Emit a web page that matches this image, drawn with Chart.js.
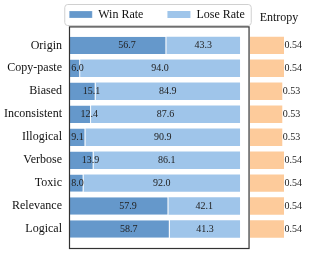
<!DOCTYPE html>
<html>
<head>
<meta charset="utf-8">
<script src="https://cdn.jsdelivr.net/npm/chart.js@4.4.0/dist/chart.umd.min.js"></script>
<style>
    html, body { margin: 0; padding: 0; background: #fff; }
    #wrap { width: 314px; height: 253px; }
</style>
</head>
<body>
<div id="wrap"><canvas id="chart"></canvas></div>
<script>
const CATEGORIES = ["Origin", "Copy-paste", "Biased", "Inconsistent", "Illogical", "Verbose", "Toxic", "Relevance", "Logical"];
const WIN_RATE = [56.7, 6.0, 15.1, 12.4, 9.1, 13.9, 8.0, 57.9, 58.7];
const LOSE_RATE = [43.3, 94.0, 84.9, 87.6, 90.9, 86.1, 92.0, 42.1, 41.3];
const ENTROPY = [0.54, 0.54, 0.53, 0.53, 0.53, 0.54, 0.54, 0.54, 0.54];

const WIN_COLOR = "#6598cb";
const LOSE_COLOR = "#9fc5ea";
const ENTROPY_COLOR = "#fdcb9b";
const SERIF = "'Liberation Serif', 'Times New Roman', Times, 'DejaVu Serif', serif";

Chart.defaults.font.family = SERIF;

// frame around the win/lose panel, legend box, entropy title
const framePlugin = {
    id: "frame",
    afterDraw(chart) {
        const { ctx, chartArea, scales } = chart;
        const left = chartArea.left - 0.5;
        const right = scales.x.getPixelForValue(105.3);
        const top = chartArea.top - 7;
        const bottom = chartArea.bottom + 8;
        ctx.save();
        ctx.strokeStyle = "#333";
        ctx.lineWidth = 1.2;
        ctx.strokeRect(left, top, right - left, bottom - top);

        const boxes = chart.legend.legendHitBoxes;
        const lx = Math.min(...boxes.map((b) => b.left)) - 5;
        const rx = Math.max(...boxes.map((b) => b.left + b.width)) + 6;
        ctx.strokeStyle = "#d0d0d0";
        ctx.lineWidth = 1;
        ctx.beginPath();
        ctx.roundRect(lx + 0.5, 4.5, rx - lx, 21, 3);
        ctx.stroke();

        ctx.fillStyle = "#111";
        ctx.font = `12px ${SERIF}`;
        ctx.textAlign = "center";
        ctx.textBaseline = "middle";
        ctx.fillText("Entropy", chartArea.right - 35, 18);
        ctx.restore();
    },
};

const valueLabels = {
    id: "valueLabels",
    afterDatasetsDraw(chart) {
        const { ctx, scales } = chart;
        ctx.save();
        ctx.fillStyle = "#222";
        ctx.font = `10px ${SERIF}`;
        ctx.textBaseline = "middle";
        CATEGORIES.forEach((_, i) => {
            const y = scales.y.getPixelForValue(i);
            const w = WIN_RATE[i];
            const l = LOSE_RATE[i];
            ctx.textAlign = "left";
            ctx.fillText(w.toFixed(1), scales.x.getPixelForValue(w >= 10 ? w / 2 : 0.7), y);
            ctx.textAlign = "center";
            ctx.fillText(l.toFixed(1), scales.x.getPixelForValue(w + l / 2), y);
            ctx.textAlign = "left";
            ctx.fillText(ENTROPY[i].toFixed(2), scales.x2.getPixelForValue(ENTROPY[i]) + 0.5, y);
        });
        ctx.restore();
    },
};

function drawChart() {
    new Chart(document.getElementById("chart"), {
        type: "bar",
        data: {
            labels: CATEGORIES,
            datasets: [
                {
                    label: "Win Rate",
                    data: WIN_RATE,
                    backgroundColor: WIN_COLOR,
                    borderColor: "rgba(255,255,255,0.9)",
                    borderWidth: { top: 0, right: 1, bottom: 0, left: 0 },
                    stack: "all",
                },
                {
                    label: "Lose Rate",
                    data: LOSE_RATE,
                    backgroundColor: LOSE_COLOR,
                    borderWidth: 0,
                    stack: "all",
                },
                {
                    label: "Entropy",
                    data: ENTROPY,
                    backgroundColor: ENTROPY_COLOR,
                    borderWidth: 0,
                    xAxisID: "x2",
                    base: 0.34,
                    stack: "all",
                },
            ],
        },
        options: {
            indexAxis: "y",
            responsive: true,
            maintainAspectRatio: false,
            animation: false,
            barPercentage: 0.76,
            categoryPercentage: 1,
            layout: { padding: { top: -15.5, bottom: 12.5, right: 0, left: 0 } },
            plugins: {
                tooltip: { enabled: false },
                legend: {
                    position: "top",
                    labels: {
                        filter: (item) => item.text !== "Entropy",
                        color: "#111",
                        font: { family: SERIF, size: 12 },
                        boxWidth: 23,
                        boxHeight: 7,
                        padding: 24,
                    },
                },
            },
            scales: {
                x: { display: false, stacked: true, min: 0, max: 143.5 },
                x2: {
                    position: "top",
                    min: -0.7188,
                    max: 0.7165,
                    ticks: { display: false },
                    grid: { display: false, drawTicks: false },
                    border: { display: false },
                    afterFit: (s) => { s.height = 3.4; },
                },
                y: {
                    grid: { display: false },
                    border: { display: false },
                    ticks: { color: "#111", font: { family: SERIF, size: 12 }, padding: 0 },
                    afterFit: (s) => { s.width = 70; },
                },
            },
        },
        plugins: [framePlugin, valueLabels],
    });
}

document.fonts.load(`12px ${SERIF}`).then(drawChart, drawChart);
</script>
</body>
</html>
